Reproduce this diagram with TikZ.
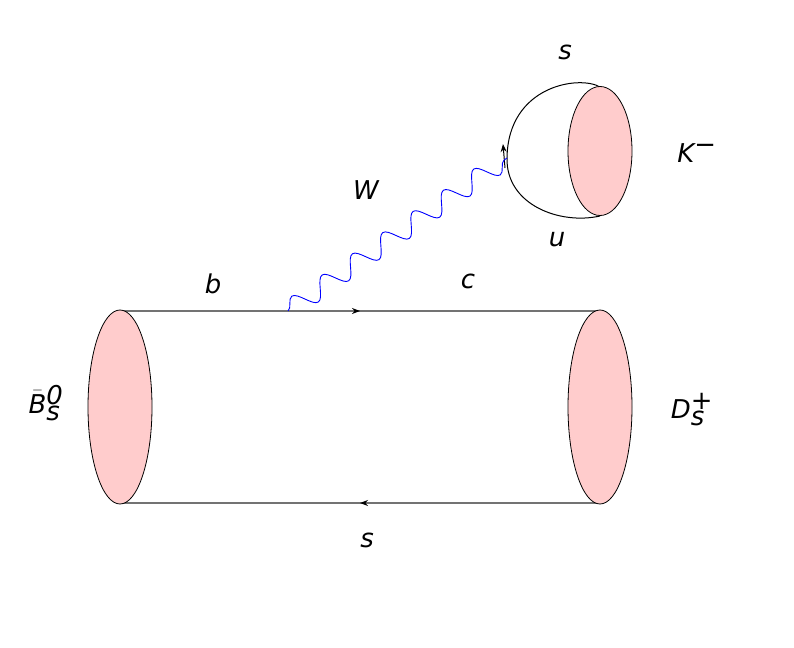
\documentclass[tikz,border=0pt]{standalone}
\usepackage{fontspec}
\setmainfont{DejaVu Sans}
\usetikzlibrary{arrows.meta, calc, positioning, shapes.geometric, decorations.pathmorphing, decorations.markings}
\definecolor{hadronpink}{rgb}{1.0, 0.80, 0.80}
\definecolor{quarkgray}{rgb}{0.45, 0.45, 0.45}

\begin{document}
\begin{tikzpicture}
			[x=1bp, y=-1bp,
			hadron/.style={draw, line width=0.8bp, fill=hadronpink},
			quark/.style={draw=quarkgray, line width=2bp},
			midarrow/.style={postaction={decorate}, decoration={markings, mark=at position #1 with {\arrow[black]{Stealth[length=8bp]}}}},
			lbl/.style={font=\itshape\fontsize{26}{28}\selectfont}]
			\useasboundingbox (0,0) rectangle (794,648);
			% meson tube
			\coordinate (bl) at (120,311);
			\coordinate (br) at (600,311);
			\coordinate (sl) at (120,503);
			\coordinate (sr) at (600,503);
			\coordinate (wv) at (288,311);
			\draw[quark, midarrow=0.5] (bl) -- (br);
			\draw[quark, midarrow=0.5] (sr) -- (sl);
			\node[hadron, ellipse, minimum width=64bp, minimum height=194bp, inner sep=0] (bs) at (120,407) {};
			\node[hadron, ellipse, minimum width=64bp, minimum height=194bp, inner sep=0] (ds) at (600,407) {};
			% kaon loop
			\coordinate (kt) at (600,87);
			\coordinate (kb) at (600,216);
			\coordinate (kw) at (507,158);
			\draw[black, line width=1bp] (kt) .. controls (580,75) and (508,85) .. (kw)
				.. controls (506,205) and (560,225) .. (kb);
			\draw[line width=1bp, -{Stealth[length=8bp]}] ($(kw)+(-2,10)$) -- ($(kw)+(-4,-14)$);
			\node[hadron, ellipse, minimum width=64bp, minimum height=129bp, inner sep=0] (km) at (600,151) {};
			% W boson
			\draw[blue, line width=0.9bp, decorate, decoration={snake, segment length=37bp, amplitude=10bp}] (wv) -- (kw);
			% labels
			\node[lbl] (lb) at (213,284) {b};
			\node[lbl] (lc) at (468,281) {c};
			\node[lbl] (ls) at (367,540) {s};
			\node[lbl] (lw) at (366,190) {W};
			\node[lbl] (lks) at (565,52) {s};
			\node[lbl] (lku) at (557,240) {u};
			\node[lbl] (lbs) at (46,403) {$\bar{\mbox{\itshape B}}{}^{\mbox{\itshape 0}}_{\mbox{\itshape s}}$};
			\node[lbl] (lds) at (692,410) {D$^{\mbox{\itshape +}}_{\mbox{\itshape s}}$};
			\node[lbl] (lkm) at (697,153) {K$^{\mbox{\itshape −}}$};
\end{tikzpicture}
\end{document}
